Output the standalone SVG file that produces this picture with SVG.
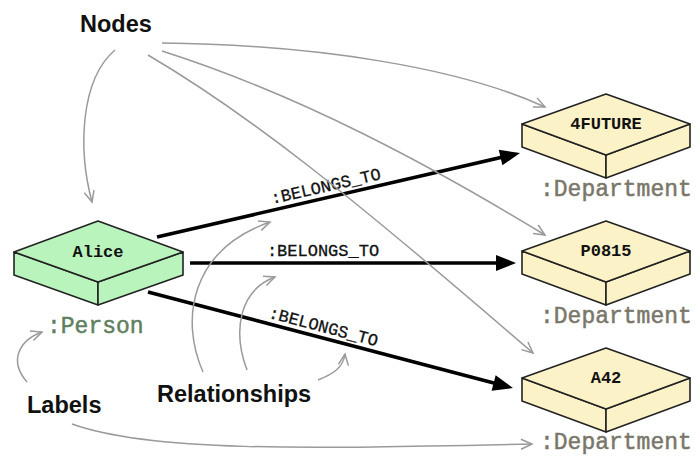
<svg xmlns="http://www.w3.org/2000/svg" width="695" height="457" viewBox="0 0 695 457">
<style>
.face{stroke:#222;stroke-width:1.6;stroke-linejoin:round}
.person{fill:#b9f4bd}
.dept{fill:#fcf2c7}
.name{font-family:"Liberation Mono","Courier New",monospace;font-weight:bold;font-size:17px;fill:#111;text-anchor:middle}
.lbl{font-family:"Liberation Mono","Courier New",monospace;font-size:23px;stroke-width:0.5}
.plbl{fill:#5f7f5f;stroke:#5f7f5f}
.dlbl{fill:#7a776a;stroke:#7a776a}
.ann{font-family:"Liberation Sans",Arial,sans-serif;font-weight:bold;font-size:23.5px;fill:#111}
.rel{stroke:#000;stroke-width:3.5;fill:none;marker-end:url(#blk)}
.rtxt{font-family:"Liberation Mono","Courier New",monospace;font-size:17px;fill:#111;stroke:#111;stroke-width:0.3;text-anchor:middle}
.hint{stroke:#9a9a9a;stroke-width:1.5;fill:none;marker-end:url(#open)}
</style>
<defs>
<marker id="blk" markerUnits="userSpaceOnUse" markerWidth="40" markerHeight="40" refX="0" refY="0" orient="auto" overflow="visible">
<path d="M10,0 L-10,-8 L-10,8 Z" fill="#000"/>
</marker>
<marker id="open" markerUnits="userSpaceOnUse" markerWidth="30" markerHeight="30" refX="0" refY="0" orient="auto" overflow="visible">
<path d="M-11,-5 L0,0 L-11,5" fill="none" stroke="#9a9a9a" stroke-width="1.5"/>
</marker>
</defs>
<rect width="695" height="457" fill="#fff"/>

<g id="connectors">
<path class="rel" d="M157,237 L510.3,155.3"/>
<path class="rel" d="M190,263 L506,263"/>
<path class="rel" d="M148,292 L503.3,385.5"/>
<text class="rtxt" transform="translate(327,191.5) rotate(-13)">:BELONGS_TO</text>
<text class="rtxt" x="323" y="256">:BELONGS_TO</text>
<text class="rtxt" transform="translate(322,332) rotate(14.75)">:BELONGS_TO</text>
</g>

<g id="annotation-arrows">
<path class="hint" d="M115,50 C80,80 78,150 92,202"/>
<path class="hint" d="M162,43 C320,45 460,68 545,107"/>
<path class="hint" d="M162,51 C300,95 430,165 545,235"/>
<path class="hint" d="M148,55 C250,115 350,195 533,353"/>
<path class="hint" d="M203,372 C180,320 190,250 270,222"/>
<path class="hint" d="M247,370 C232,330 240,290 275,277"/>
<path class="hint" d="M318,380 C333,374 343,368 345,354"/>
<path class="hint" d="M27,382 C8,360 20,340 42,332"/>
<path class="hint" d="M72,424 C150,452 300,449 532,444"/>
</g>

<g id="node-alice">
<polygon class="face person" points="14,252 98,282 98,305 14,275"/>
<polygon class="face person" points="98,282 183,252 183,275 98,305"/>
<polygon class="face person" points="98,221 183,252 98,282 14,252"/>
<text class="name" x="98" y="257">Alice</text>
<text class="lbl plbl" x="47" y="333">:Person</text>
</g>

<g id="node-4future">
<polygon class="face dept" points="522,124 606,155 606,178 522,147"/>
<polygon class="face dept" points="606,155 690,124 690,147 606,178"/>
<polygon class="face dept" points="606,94 690,124 606,155 522,124"/>
<text class="name" x="606" y="129">4FUTURE</text>
<text class="lbl dlbl" x="540" y="196">:Department</text>
</g>

<g id="node-p0815">
<polygon class="face dept" points="522,251 606,282 606,305 522,274"/>
<polygon class="face dept" points="606,282 690,251 690,274 606,305"/>
<polygon class="face dept" points="606,221 690,251 606,282 522,251"/>
<text class="name" x="606" y="256">P0815</text>
<text class="lbl dlbl" x="540" y="323">:Department</text>
</g>

<g id="node-a42">
<polygon class="face dept" points="522,378 606,409 606,432 522,401"/>
<polygon class="face dept" points="606,409 690,378 690,401 606,432"/>
<polygon class="face dept" points="606,348 690,378 606,409 522,378"/>
<text class="name" x="606" y="383">A42</text>
<text class="lbl dlbl" x="540" y="449">:Department</text>
</g>

<g id="annotations">
<text class="ann" x="80" y="32" font-size="24">Nodes</text>
<text class="ann" x="157" y="402">Relationships</text>
<text class="ann" x="27" y="413">Labels</text>
</g>
</svg>
